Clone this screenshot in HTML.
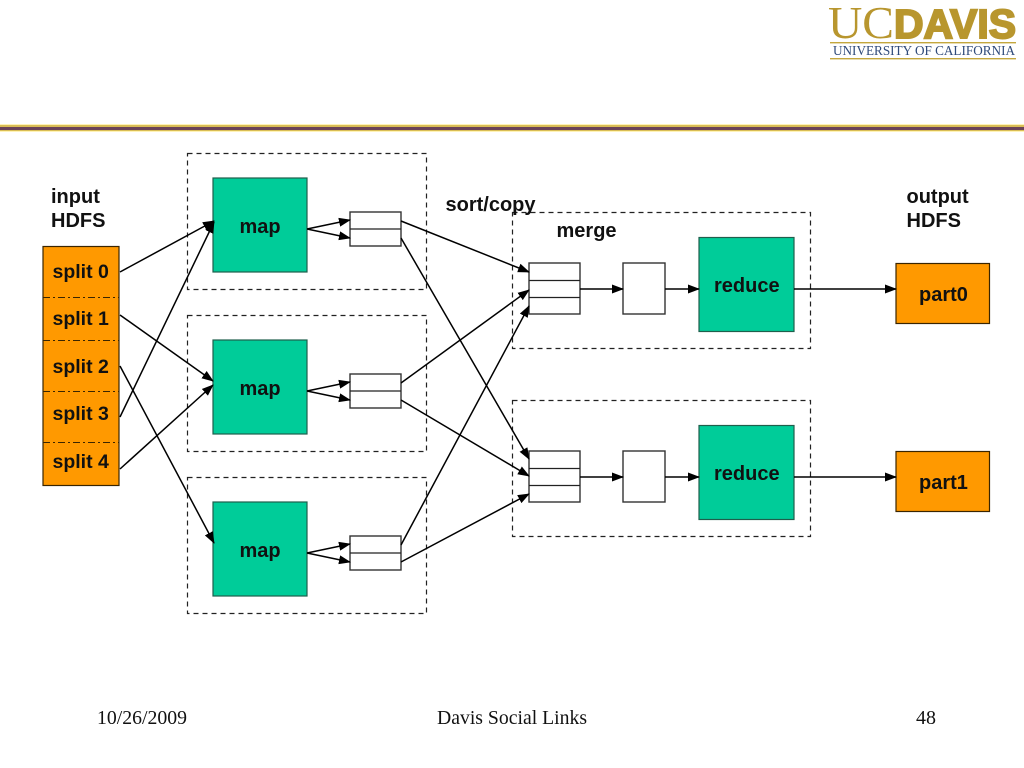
<!DOCTYPE html>
<html><head><meta charset="utf-8"><style>
html,body{margin:0;padding:0;background:#fff}
svg{display:block}
text{font-family:"Liberation Sans",sans-serif;font-weight:bold;font-size:20px;fill:#111}
.sp{font-size:19.5px}
.f{font-family:"Liberation Serif",serif;font-weight:normal;font-size:20px;fill:#111}
.d{fill:none;stroke:#222;stroke-width:1.2;stroke-dasharray:5 4}
.m{fill:#00cc99;stroke:#1f5f4c;stroke-width:1.2}
.o{fill:#ff9900;stroke:#3a2500;stroke-width:1.2}
.b{fill:#fff;stroke:#333;stroke-width:1.4}
.l{stroke:#000;stroke-width:1.5;fill:none;marker-end:url(#a)}
.s{stroke:#222;stroke-width:1.2;fill:none}
</style></head><body>
<svg width="1024" height="768" viewBox="0 0 1024 768" xmlns="http://www.w3.org/2000/svg">
<defs><marker id="a" markerUnits="userSpaceOnUse" markerWidth="12" markerHeight="10" refX="11" refY="5" orient="auto"><path d="M0 0.500L12 5L0 9.500Z" fill="#000"/></marker></defs>
<rect width="1024" height="768" fill="#fff"/>

<!-- header rule -->
<rect x="0" y="124" width="1024" height="8" fill="#fff3b8"/>
<rect x="0" y="125" width="1024" height="6" fill="#d9bd55"/>
<rect x="0" y="127" width="1024" height="3" fill="#6b4358"/>

<!-- logo -->
<text x="828" y="38" textLength="66" lengthAdjust="spacingAndGlyphs" style="font-family:'Liberation Serif',serif;font-weight:normal;font-size:45px;fill:#b8962e">UC</text>
<text x="894" y="38" textLength="122" lengthAdjust="spacingAndGlyphs" style="font-size:41px;fill:#b8962e;stroke:#b8962e;stroke-width:2">DAVIS</text>
<rect x="830" y="42" width="186" height="1.4" fill="#c4a73e"/>
<text x="833" y="55" textLength="182" lengthAdjust="spacingAndGlyphs" style="font-family:'Liberation Serif',serif;font-weight:normal;font-size:14px;fill:#2f4a7a">UNIVERSITY OF CALIFORNIA</text>
<rect x="830" y="58" width="186" height="1.4" fill="#c4a73e"/>

<!-- dashed groups -->
<rect class="d" x="187.500" y="153.500" width="239" height="136"/>
<rect class="d" x="187.500" y="315.500" width="239" height="136"/>
<rect class="d" x="187.500" y="477.500" width="239" height="136"/>
<rect class="d" x="512.500" y="212.500" width="298" height="136"/>
<rect class="d" x="512.500" y="400.500" width="298" height="136"/>

<!-- splits -->
<rect class="o" x="43" y="246.500" width="76" height="239"/>
<g stroke="#3a2500" stroke-width="1" stroke-dasharray="7 3 2 3">
<path d="M43 297.500H119M43 340.500H119M43 391.500H119M43 442.500H119"/>
</g>
<text class="sp" x="52.500" y="278">split 0</text>
<text class="sp" x="52.500" y="325">split 1</text>
<text class="sp" x="52.500" y="373">split 2</text>
<text class="sp" x="52.500" y="420">split 3</text>
<text class="sp" x="52.500" y="468">split 4</text>
<text x="51" y="203">input</text>
<text x="51" y="227">HDFS</text>

<!-- maps -->
<rect class="m" x="213" y="178" width="94" height="94"/>
<rect class="m" x="213" y="340" width="94" height="94"/>
<rect class="m" x="213" y="502" width="94" height="94"/>
<text x="239.500" y="233">map</text>
<text x="239.500" y="395">map</text>
<text x="239.500" y="557">map</text>

<!-- small stacks -->
<rect class="b" x="350" y="212" width="51" height="34"/><path class="s" d="M350 229H401"/>
<rect class="b" x="350" y="374" width="51" height="34"/><path class="s" d="M350 391H401"/>
<rect class="b" x="350" y="536" width="51" height="34"/><path class="s" d="M350 553H401"/>

<!-- reduce stacks -->
<rect class="b" x="529" y="263" width="51" height="51"/><path class="s" d="M529 280.500H580M529 297.500H580"/>
<rect class="b" x="529" y="451" width="51" height="51"/><path class="s" d="M529 468.500H580M529 485.500H580"/>
<rect class="b" x="623" y="263" width="42" height="51"/>
<rect class="b" x="623" y="451" width="42" height="51"/>
<rect class="m" x="699" y="237.500" width="95" height="94"/>
<rect class="m" x="699" y="425.500" width="95" height="94"/>
<text x="714" y="292">reduce</text>
<text x="714" y="480">reduce</text>

<!-- parts -->
<rect class="o" x="896" y="263.500" width="93.500" height="60"/>
<rect class="o" x="896" y="451.500" width="93.500" height="60"/>
<text x="919" y="301">part0</text>
<text x="919" y="489">part1</text>

<!-- labels -->
<text x="906.500" y="203">output</text>
<text x="906.500" y="227">HDFS</text>
<text x="445.500" y="211">sort/copy</text>
<text x="556.500" y="237">merge</text>

<!-- connectors -->
<path class="l" d="M120 272L214 221"/>
<path class="l" d="M120 417L214 222"/>
<path class="l" d="M120 315L213 381"/>
<path class="l" d="M120 469L213 385"/>
<path class="l" d="M120 366L214 543"/>

<path class="l" d="M307 229L350 220"/>
<path class="l" d="M307 229L350 238"/>
<path class="l" d="M307 391L350 382"/>
<path class="l" d="M307 391L350 400"/>
<path class="l" d="M307 553L350 544"/>
<path class="l" d="M307 553L350 562"/>

<path class="l" d="M401 221L529 272"/>
<path class="l" d="M401 238L529 459"/>
<path class="l" d="M401 383L529 290"/>
<path class="l" d="M401 400L529 476"/>
<path class="l" d="M401 545L529 306"/>
<path class="l" d="M401 562L529 494"/>

<path class="l" d="M580 289H623"/>
<path class="l" d="M665 289H699"/>
<path class="l" d="M794 289H896"/>
<path class="l" d="M580 477H623"/>
<path class="l" d="M665 477H699"/>
<path class="l" d="M794 477H896"/>

<!-- footer -->
<text class="f" x="97" y="724" textLength="90" lengthAdjust="spacingAndGlyphs">10/26/2009</text>
<text class="f" x="437" y="724" textLength="150" lengthAdjust="spacingAndGlyphs">Davis Social Links</text>
<text class="f" x="916" y="724">48</text>
</svg>
</body></html>
